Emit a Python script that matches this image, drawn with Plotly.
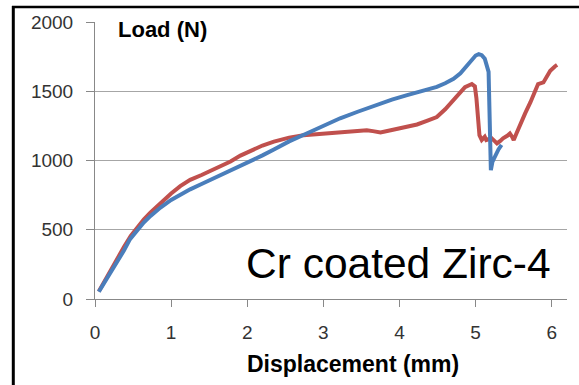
import plotly.graph_objects as go

# Load-displacement record, blue specimen
disp_blue = [0.05, 0.12, 0.20, 0.29, 0.38, 0.46, 0.55, 0.64, 0.73, 0.86, 1.00, 1.12,
             1.25, 1.40, 1.52, 1.65, 1.78, 1.90, 2.00, 2.20, 2.35, 2.55, 2.78, 3.00,
             3.22, 3.45, 3.66, 3.90, 4.10, 4.27, 4.40, 4.49, 4.60, 4.71, 4.80, 4.88,
             4.95, 5.00, 5.04, 5.08, 5.12, 5.15, 5.17, 5.18, 5.19, 5.20, 5.22, 5.26,
             5.30, 5.34]
load_blue = [52, 115, 183, 265, 350, 432, 495, 552, 600, 660, 715, 755,
             792, 830, 860, 893, 925, 955, 982, 1037, 1080, 1138, 1195, 1250,
             1305, 1352, 1395, 1440, 1472, 1495, 1515, 1532, 1558, 1590, 1630, 1680,
             1725, 1758, 1768, 1760, 1735, 1690, 1640, 1400, 1160, 930, 990, 1040,
             1080, 1112]

# Load-displacement record, red specimen
disp_red = [0.05, 0.12, 0.20, 0.29, 0.38, 0.47, 0.55, 0.64, 0.73, 0.86, 1.00, 1.12,
            1.25, 1.40, 1.52, 1.65, 1.78, 1.91, 2.00, 2.20, 2.35, 2.55, 2.74, 2.95,
            3.13, 3.35, 3.57, 3.65, 3.75, 3.90, 4.10, 4.23, 4.35, 4.49, 4.60, 4.71,
            4.80, 4.86, 4.95, 4.99, 5.01, 5.03, 5.05, 5.08, 5.12, 5.14, 5.18, 5.21,
            5.25, 5.28, 5.32, 5.36, 5.42, 5.45, 5.48, 5.50, 5.54, 5.58, 5.65, 5.72,
            5.78, 5.82, 5.89, 5.94, 5.98, 6.04, 6.07]
load_red = [55, 125, 195, 285, 375, 455, 515, 573, 625, 695, 762, 815,
            860, 895, 925, 958, 993, 1035, 1060, 1108, 1136, 1165, 1183, 1192,
            1195, 1205, 1219, 1212, 1202, 1220, 1243, 1260, 1285, 1314, 1370, 1433,
            1490, 1529, 1552, 1535, 1450, 1300, 1183, 1148, 1171, 1148, 1155, 1160,
            1140, 1124, 1140, 1160, 1180, 1195, 1170, 1148, 1200, 1255, 1340, 1421,
            1490, 1552, 1564, 1610, 1648, 1679, 1690]

x_ticks = [0, 1, 2, 3, 4, 5, 6]
y_ticks = [0, 500, 1000, 1500, 2000]

W, H = 579, 385
ML, MR, MT, MB = 95, 12, 20, 86
PW, PH = W - ML - MR, H - MT - MB


def px(xp):
    return (xp - ML) / PW


def py(yp):
    return (H - MB - yp) / PH


fig = go.Figure()
fig.add_trace(go.Scatter(x=disp_red, y=load_red, mode="lines",
                         line=dict(color="#C0504D", width=4), showlegend=False))
fig.add_trace(go.Scatter(x=disp_blue, y=load_blue, mode="lines",
                         line=dict(color="#4A7EBB", width=4), showlegend=False))

tick_font = dict(family="Liberation Sans", size=19, color="#333333")

fig.update_layout(
    width=W, height=H,
    margin=dict(l=ML, r=MR, t=MT, b=MB),
    paper_bgcolor="white", plot_bgcolor="white",
    xaxis=dict(range=[0, 6.2], tickvals=x_ticks, ticks="outside", ticklen=7,
               tickcolor="#888888", showgrid=False, zeroline=False,
               showline=True, linecolor="#888888", linewidth=1,
               tickfont=tick_font, ticklabelstandoff=9),
    yaxis=dict(range=[0, 2000], tickvals=y_ticks, ticks="outside", ticklen=8,
               tickcolor="#888888", showgrid=True, gridcolor="#A6A6A6",
               gridwidth=1, zeroline=False, showline=True,
               linecolor="#888888", linewidth=1,
               tickfont=tick_font, ticklabelstandoff=9),
    annotations=[
        dict(text="<b>Load (N)</b>", xref="paper", yref="paper",
             x=px(116), y=py(28), xanchor="left", yanchor="middle",
             showarrow=False,
             font=dict(family="Liberation Sans", size=22, color="black")),
        dict(text="Cr coated Zirc-4", xref="paper", yref="paper",
             x=px(553), y=py(263), xanchor="right", yanchor="middle",
             showarrow=False,
             font=dict(family="Liberation Sans", size=42.5, color="black")),
        dict(text="<b>Displacement (mm)</b>", xref="paper", yref="paper",
             x=px(353), y=py(364), xanchor="center", yanchor="middle",
             showarrow=False,
             font=dict(family="Liberation Sans", size=23, color="black")),
    ],
    shapes=[
        dict(type="line", xref="paper", yref="paper",
             x0=px(13.3), x1=px(13.3), y0=py(390), y1=py(4),
             line=dict(color="black", width=3)),
        dict(type="line", xref="paper", yref="paper",
             x0=px(12), x1=px(585), y0=py(5), y1=py(5),
             line=dict(color="black", width=2.5)),
    ],
)

fig.write_html("out.html")
